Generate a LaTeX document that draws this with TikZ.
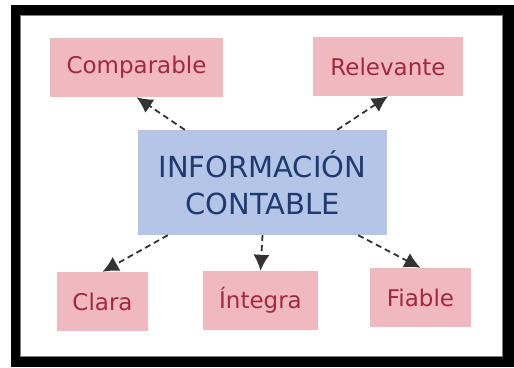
\documentclass[tikz,border=0pt]{standalone}
\usepackage{fontspec}
\setmainfont{DejaVu Sans}
\usepackage{xcolor}
\usepackage{tikz}
\usetikzlibrary{calc}
\usetikzlibrary{arrows.meta}
\definecolor{rosa}{HTML}{F0B8BF}
\definecolor{rojo}{HTML}{A3283E}
\definecolor{azul}{HTML}{B4C5E8}
\definecolor{marino}{HTML}{1F3A6E}

\begin{document}
\begin{tikzpicture}[x=1pt,y=-1pt,
        cualidad/.style={fill=rosa, text=rojo, inner sep=0pt, font=\fontsize{23}{28}\selectfont},
        central/.style={fill=azul, text=marino, inner sep=0pt, align=center, font=\fontsize{29}{37}\selectfont},
        flecha/.style={dash pattern=on 6pt off 4pt, line width=1.8pt, black!80, -{Latex[length=16pt,width=16pt]}}]
        %MARCO
        \useasboundingbox (0,0) rectangle (514,367);
        \fill[black] (11,5) rectangle (514,367);
        \draw[fill=white, draw=gray, line width=1.5pt] (20.5,15.5) rectangle (502.5,356.5);

        %NODOS
        \node[central, minimum width=249pt, minimum height=105pt] (info) at (262.5,182.5) {INFORMACIÓN\\CONTABLE};
        \node[cualidad, minimum width=173pt, minimum height=59pt] (comparable) at (136.5,67.5) {Comparable};
        \node[cualidad, minimum width=150pt, minimum height=59pt] (relevante) at (388,66.5) {Relevante};
        \node[cualidad, minimum width=91pt, minimum height=59pt] (clara) at (102.5,301.5) {Clara};
        \node[cualidad, minimum width=115pt, minimum height=59pt] (integra) at (260.5,300.5) {Íntegra};
        \node[cualidad, minimum width=101pt, minimum height=59pt] (fiable) at (420.5,297.5) {Fiable};

        %FLECHAS
        \draw[flecha] ([xshift=47pt]info.north west) -- (comparable.south);
        \draw[flecha] ([xshift=-50pt]info.north east) -- (relevante.south);
        \draw[flecha] ([xshift=30pt]info.south west) -- (clara.north);
        \draw[flecha] (info.south) -- (integra.north);
        \draw[flecha] ([xshift=-29pt]info.south east) -- (fiable.north);

    \end{tikzpicture}
\end{document}
